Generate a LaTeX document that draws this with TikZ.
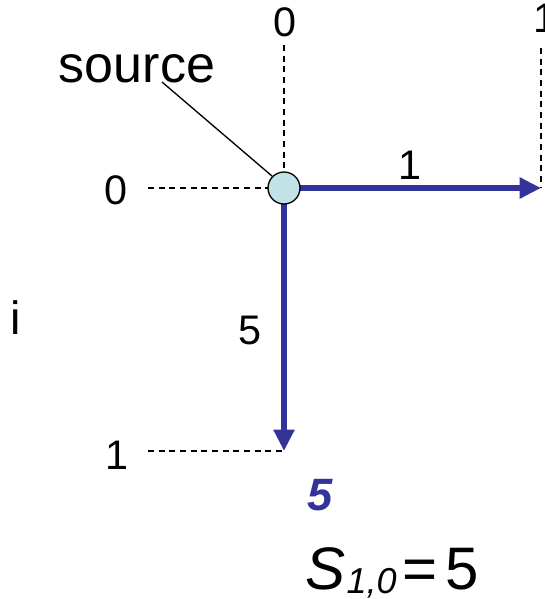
\documentclass[tikz,border=0pt]{standalone}
\usepackage{fontspec}
\setmainfont{Liberation Sans}
\usetikzlibrary{arrows.meta}
\definecolor{edgeblue}{HTML}{33339A}
\definecolor{srcfill}{HTML}{BFE3E6}
\begin{document}
\begin{tikzpicture}[x=0.75pt,y=-0.75pt,
  guide/.style={draw=black,line width=0.9pt,dash pattern=on 4.5pt off 3.5pt},
  edge/.style={draw=edgeblue,line width=4.5pt,-{Triangle[length=16pt,width=15pt]},shorten >=0pt},
  num/.style={font=\fontsize{31}{31}\selectfont,inner sep=0pt},
  srcnode/.style={circle,draw=black,line width=1pt,fill=srcfill,minimum size=24pt,inner sep=0pt}]
\useasboundingbox (0,0) rectangle (544,599);
% guide lines
\coordinate (topend) at (284,45);
\coordinate (leftend) at (148,188);
\coordinate (rightguide) at (541,48);
\coordinate (rightpt) at (541,188);
\coordinate (downpt) at (284,451);
\coordinate (botend) at (148,451);
\draw[guide] (topend) -- (284,188);
\draw[guide] (leftend) -- (284,188);
\draw[guide] (rightguide) -- (rightpt);
\draw[guide] (botend) -- (downpt);
% edges
\draw[edge] (284,188) -- (rightpt);
\draw[edge] (284,188) -- (downpt);
\node[srcnode] (src) at (284,188) {};
% labels
\node[num] (t0) at (285,22) {0};
\node[num] (t1) at (545,18) {1};
\node[num] (l0) at (116,190) {0};
\node[num] (l1) at (117,455) {1};
\node[num] (e1) at (410,165) {1};
\node[num] (e5) at (250,330) {5};
\node[font=\fontsize{35}{35}\selectfont,inner sep=0pt] (ilab) at (16,318) {i};
\node[font=\fontsize{39}{39}\selectfont,inner sep=0pt] (srclab) at (137,69) {source};
\draw[black,line width=1pt] (162,82) -- (src.north west);
\node[font=\fontsize{34}{34}\selectfont\bfseries\itshape,text=edgeblue,inner sep=0pt] (val) at (320,495) {5};
\node[font=\fontsize{45}{45}\selectfont,inner sep=0pt,anchor=base west] (eq) at (305,589) {\textit{S}\hspace{1pt}\raisebox{-3pt}{\fontsize{27}{27}\selectfont\textit{1,0}}\hspace{4pt}=\hspace{6pt}5};
\end{tikzpicture}
\end{document}
